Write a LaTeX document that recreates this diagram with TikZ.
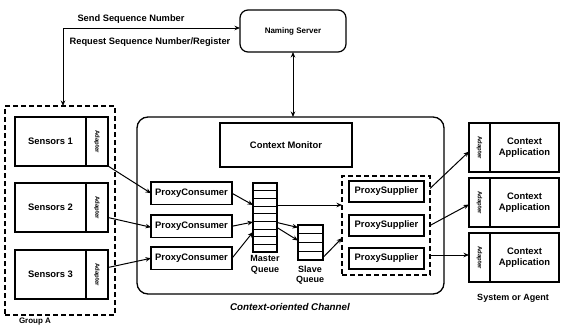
\documentclass[tikz,border=0pt]{standalone}
\usepackage{fontspec}
\setmainfont{Liberation Sans}
\usetikzlibrary{arrows.meta,calc}
\begin{document}
\begin{tikzpicture}[x=1pt,y=-1pt,
  box/.style={draw,line width=1.2pt,inner sep=0pt,outer sep=0pt,anchor=north west,font=\fontsize{9.4}{10.5}\selectfont\bfseries},
  rbox/.style={box,rounded corners=8pt},
  grpbox/.style={draw,line width=1.2pt,dash pattern=on 5pt off 3pt,inner sep=0pt,outer sep=0pt,anchor=north west},
  adlab/.style={rotate=-90,font=\fontsize{6}{6}\selectfont\bfseries,inner sep=0pt},
  arr/.style={-{Stealth[length=5.5pt,width=4.5pt]},line width=1pt},
  darr/.style={{Stealth[length=5.5pt,width=4.5pt]}-{Stealth[length=5.5pt,width=4.5pt]},line width=1pt},
  txt/.style={font=\fontsize{9}{10.5}\selectfont\bfseries,inner sep=0pt,align=center}]
\useasboundingbox (0,0) rectangle (562,327);

% naming server
\node[rbox,minimum width=106,minimum height=42,font=\fontsize{8}{9}\selectfont\bfseries] (ns) at (240,10) {Naming Server};

% context-oriented channel
\node[rbox,rounded corners=11pt,line width=1.3pt,minimum width=307,minimum height=177] (ch) at (137,117) {};
\node[txt,font=\fontsize{9.8}{11}\selectfont\bfseries\itshape] (chl) at (290,307) {Context-oriented Channel};

% sensor group
\node[grpbox,minimum width=110,minimum height=209] (grp) at (5,106) {};
\node[txt,font=\fontsize{8}{9}\selectfont\bfseries] (grpl) at (35,322) {Group A};
\foreach \i/\y in {1/117,2/183,3/250}{
  \node[box,minimum width=71,minimum height=49] (s\i) at (15,\y) {Sensors \i};
  \node[box,minimum width=22,minimum height=49,label={[adlab]center:Adapter}] (a\i) at (86,\y) {};
}

% context monitor
\node[box,minimum width=132,minimum height=44] (cm) at (220,123) {Context Monitor};

% proxy consumers
\foreach \i/\y in {1/182,2/215,3/247}{
  \node[box,minimum width=81,minimum height=22.5] (pc\i) at (151,\y) {ProxyConsumer};
}

% master queue
\node[box,minimum width=24,minimum height=69] (mq) at (253,183) {};
\foreach \i in {1,...,8}{
  \draw[line width=0.9pt] ($(mq.north west)+(0,\i*69/9)$) -- ($(mq.north east)+(0,\i*69/9)$);
}
\node[txt] (mql) at (265,265) {Master\\Queue};

% slave queue
\node[box,minimum width=25,minimum height=35] (sq) at (298,225) {};
\foreach \i in {1,...,3}{
  \draw[line width=0.9pt] ($(sq.north west)+(0,\i*35/4)$) -- ($(sq.north east)+(0,\i*35/4)$);
}
\node[txt] (sql) at (310,275) {Slave\\Queue};

% proxy suppliers
\node[grpbox,minimum width=88,minimum height=99] (psg) at (342,176) {};
\foreach \i/\y in {1/181,2/215,3/248}{
  \node[box,minimum width=75,minimum height=21] (ps\i) at (349,\y) {ProxySupplier};
}

% context applications
\foreach \i/\y in {1/123,2/178,3/233}{
  \node[box,minimum width=21,minimum height=49,label={[adlab]center:Adapter}] (ca\i) at (469,\y) {};
  \node[box,minimum width=69,minimum height=49,align=center] (app\i) at (490,\y) {Context\\Application};
}
\node[txt] (sysl) at (513,298) {System or Agent};

% naming connections
\draw[darr] ($(grp.north)+(3,0)$) |- ($(ns.west)+(0,-3)$);
\node[txt,font=\fontsize{9.3}{10.5}\selectfont\bfseries] (snd) at (131,19) {Send Sequence Number};
\node[txt,font=\fontsize{9.3}{10.5}\selectfont\bfseries] (req) at (150,42) {Request Sequence Number/Register};
\draw[darr] (ns.south) -- (ns.south |- ch.north);

% sensors to proxy consumers
\draw[arr] (a1.south east) -- (pc1.west);
\draw[arr] ($(a2.east)+(0,10)$) -- ($(pc2.west)+(0,1)$);
\draw[arr] ($(a3.east)+(0,-7)$) -- (pc3.west);

% proxy consumers to master queue
\draw[arr] (pc1.east) -- ($(mq.west)+(0,-12.5)$);
\draw[arr] (pc2.east) -- ($(mq.west)+(0,4.5)$);
\draw[arr] (pc3.east) -- ($(mq.west)+(0,14.5)$);

% master queue to slave queue and suppliers
\draw[arr] ($(mq.east)+(0,-12.5)$) coordinate (m1) -- (m1 -| psg.west);
\draw[arr] ($(mq.east)+(0,5)$) -- ($(sq.west)+(0,-15)$);
\draw[arr] ($(mq.east)+(0,10)$) -- ($(sq.west)+(0,-2)$);
\draw[arr] ($(sq.east)+(0,15)$) -- ($(psg.west)+(0,12.5)$);

% suppliers to applications
\draw[arr] ($(psg.east)+(0,-37)$) -- ($(ca1.west)+(0,4)$);
\draw[arr] ($(psg.east)+(0,0)$) -- ($(ca2.west)+(0,2)$);
\draw[arr] ($(psg.east)+(0,29.5)$) coordinate (p3) -- (p3 -| ca3.west);
\end{tikzpicture}
\end{document}
